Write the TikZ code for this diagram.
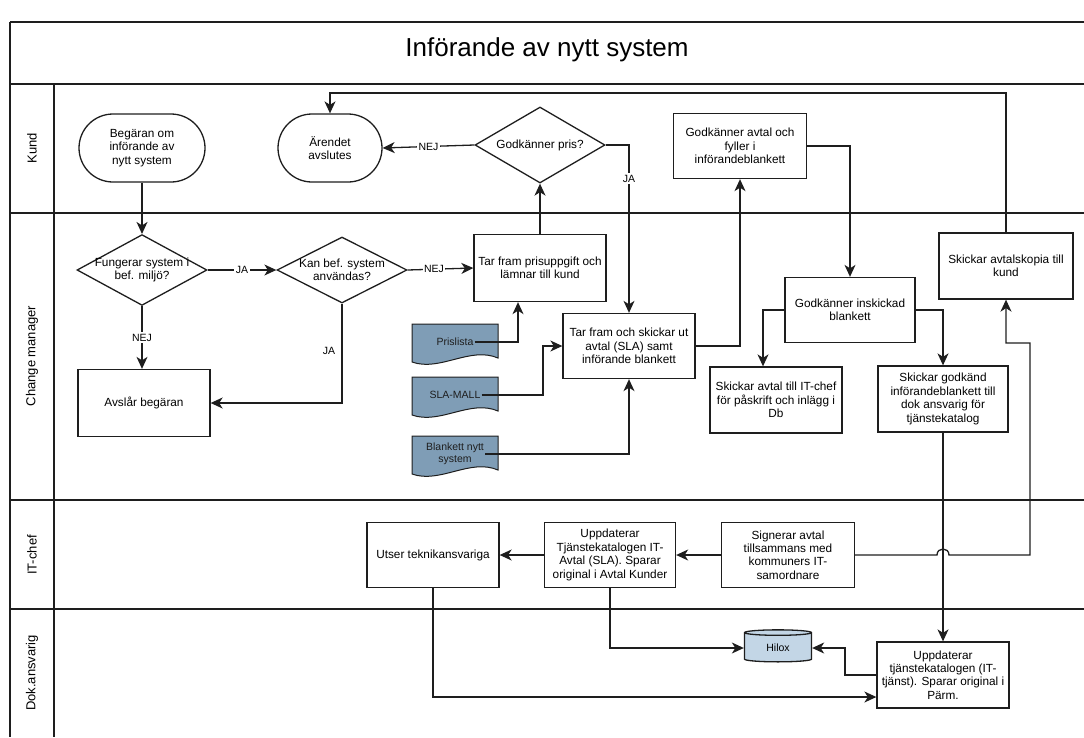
\documentclass[tikz,border=0pt]{standalone}
\usepackage{fontspec}
\setmainfont{Liberation Sans}
\usetikzlibrary{shapes.geometric,shapes.misc,arrows.meta,calc}
\definecolor{docfill}{HTML}{7F9DB6}
\definecolor{hilfill}{HTML}{C3D6E6}
\definecolor{ln}{HTML}{1E1E1E}
\newcommand\docnode[4]{%
  \filldraw[fill=docfill,draw=ln,line width=1pt]
    ($(#2,#3)+(-43,-20)$) -- ($(#2,#3)+(43,-20)$) -- ($(#2,#3)+(43,14)$)
    .. controls ($(#2,#3)+(15,2)$) and ($(#2,#3)+(-15,28)$) .. ($(#2,#3)+(-43,18)$) -- cycle;
  \node[docu] (#1) at ($(#2,#3)+(0,-2)$) {#4};}
\begin{document}
\begin{tikzpicture}[x=1pt,y=-1pt,
  lane/.style={draw=ln,line width=1.6pt},
  proc/.style={draw=ln,line width=1.3pt,fill=white,align=center,inner sep=2pt,
    font=\fontsize{11.8}{13.4}\selectfont},
  term/.style={proc,rounded rectangle},
  dec/.style={proc,diamond,inner sep=-12pt},
  docu/.style={align=center,inner sep=1pt,text=ln,font=\fontsize{10.5}{12}\selectfont},
  conn/.style={draw=ln,line width=1.3pt,-{Stealth[length=12pt,width=11pt,inset=3.5pt]}},
  lbl/.style={fill=white,inner sep=1.5pt,font=\fontsize{10.5}{12}\selectfont},
  lanelbl/.style={rotate=90,font=\fontsize{13}{15}\selectfont}]
\useasboundingbox (0,0) rectangle (1084,737);
% frame
\draw[lane] (10,22) -- (1084,22);
\draw[lane] (10,84) -- (1084,84);
\draw[lane] (10,213) -- (1084,213);
\draw[lane] (10,500) -- (1084,500);
\draw[lane] (10,609) -- (1084,609);
\draw[lane] (10,22) -- (10,737);
\draw[draw=ln,line width=1.2pt] (54,84) -- (54,737);
\node[font=\fontsize{26}{30}\selectfont] (title) at (547,50) {Införande av nytt system};
\node[lanelbl] (lk) at (32,148) {Kund};
\node[lanelbl] (lc) at (32,356) {Change manager};
\node[lanelbl] (li) at (32,555) {IT-chef};
\node[lanelbl] (ld) at (32,673) {Dok.ansvarig};
% Kund
\node[term,minimum width=130pt,minimum height=68pt] (start) at (142,148) {Begäran om\\införande av\\nytt system};
\node[term,minimum width=108pt,minimum height=68pt] (end) at (330,148) {Ärendet\\avslutes};
\node[dec,minimum width=130pt,minimum height=76pt] (dpris) at (540,145) {Godkänner pris?};
\node[proc,minimum width=133pt,minimum height=65pt] (gavtal) at (740,146) {Godkänner avtal och\\fyller i\\införandeblankett};
% Change manager
\node[dec,minimum width=130pt,minimum height=66pt] (d1) at (142,270) {Fungerar system i\\bef. miljö?};
\node[dec,minimum width=130pt,minimum height=66pt] (d2) at (342,270) {Kan bef. system\\användas?};
\node[proc,minimum width=132pt,minimum height=67pt] (avslar) at (144,403) {Avslår begäran};
\node[proc,minimum width=132pt,minimum height=67pt] (pris) at (540,268) {Tar fram prisuppgift och\\lämnar till kund};
\node[proc,minimum width=132pt,minimum height=65pt] (avtal) at (629,346) {Tar fram och skickar ut\\avtal (SLA) samt\\införande blankett};
\docnode{doc1}{455}{344}{Prislista}
\docnode{doc2}{455}{397}{SLA-MALL}
\docnode{doc3}{455}{456}{Blankett nytt\\system}
\node[proc,minimum width=130pt,minimum height=65pt] (insk) at (850,310) {Godkänner inskickad\\blankett};
\node[proc,minimum width=132pt,minimum height=66pt] (itchef) at (776,400) {Skickar avtal till IT-chef\\för påskrift och inlägg i\\Db};
\node[proc,minimum width=130pt,minimum height=66pt] (godk) at (943,399) {Skickar godkänd\\införandeblankett till\\dok ansvarig för\\tjänstekatalog};
\node[proc,minimum width=134pt,minimum height=66pt] (kopia) at (1006,266) {Skickar avtalskopia till\\kund};
% IT-chef
\node[proc,minimum width=133pt,minimum height=65pt] (sign) at (788,555) {Signerar avtal\\tillsammans med\\kommuners IT-\\samordnare};
\node[proc,minimum width=131pt,minimum height=65pt] (uppit) at (610,555) {Uppdaterar\\Tjänstekatalogen IT-\\Avtal (SLA). Sparar\\original i Avtal Kunder};
\node[proc,minimum width=132pt,minimum height=65pt] (utser) at (433,555) {Utser teknikansvariga};
% Dok
\node[proc,fill=hilfill,cylinder,shape border rotate=90,aspect=0.2,
  minimum width=67pt,minimum height=32pt,
  font=\fontsize{10.5}{12}\selectfont] (hilox) at (778,648) {Hilox};
\node[proc,minimum width=132pt,minimum height=66pt] (uppdok) at (943,675) {Uppdaterar\\tjänstekatalogen (IT-\\tjänst). Sparar original i\\Pärm.};
% helper coordinates
\coordinate (topy) at (0,93);
\coordinate (itx) at (763,0);
\coordinate (rt1) at (1030,343);
\coordinate (hx) at (845,0);
\coordinate (p1x) at (518,0);
\coordinate (s2x) at (543,0);
\coordinate (hop) at (sign.east -| godk.south);
% connectors
\draw[conn] (start.south) -- (d1.north);
\draw[conn] (d1.east) -- node[lbl] {JA} (d2.west);
\draw[conn] (d2.east) -- node[lbl,pos=0.4] {NEJ} (pris.west);
\draw[conn] (d1.south) -- node[lbl] {NEJ} (d1.south |- avslar.north);
\draw[conn] (d2.south) |- node[pos=0.24,left=3pt,font=\fontsize{10.5}{12}\selectfont] {JA} (avslar.east);
\draw[conn] (pris.north) -- (dpris.south);
\draw[conn] (dpris.west) -- node[lbl] {NEJ} (end.east);
\draw[conn] (dpris.east) -| node[lbl,pos=0.6] {JA} (avtal.north);
\draw[conn] (avtal.east) -| (gavtal.south);
\draw[conn] (gavtal.east) -| (insk.north);
\draw[conn] (insk.west) -| (itchef.north -| itx);
\draw[conn] (insk.east) -| (godk.north);
\draw[conn] (godk.south) -- (uppdok.north);
\draw[conn] (sign.east) -- ([xshift=-6pt]hop) .. controls ([xshift=-6pt,yshift=8pt]hop) and ([xshift=6pt,yshift=8pt]hop) .. ([xshift=6pt]hop) -| (rt1) -| (kopia.south);
\draw[conn] (kopia.north) |- (topy -| end.north) -- (end.north);
\draw[conn] (sign.west) -- (uppit.east);
\draw[conn] (uppit.west) -- (utser.east);
\draw[conn] (uppit.south) |- (hilox.west);
\draw[conn] (uppdok.west) -- (uppdok.west -| hx) |- (hilox.east);
\draw[conn] (utser.south) |- ([yshift=-22pt]uppdok.west);
\draw[conn] (doc1.east) -| (p1x |- pris.south);
\draw[conn] (doc2.east) -| (s2x |- avtal.west) -- (avtal.west);
\draw[conn] (doc3.east) -| (avtal.south);
\end{tikzpicture}
\end{document}
